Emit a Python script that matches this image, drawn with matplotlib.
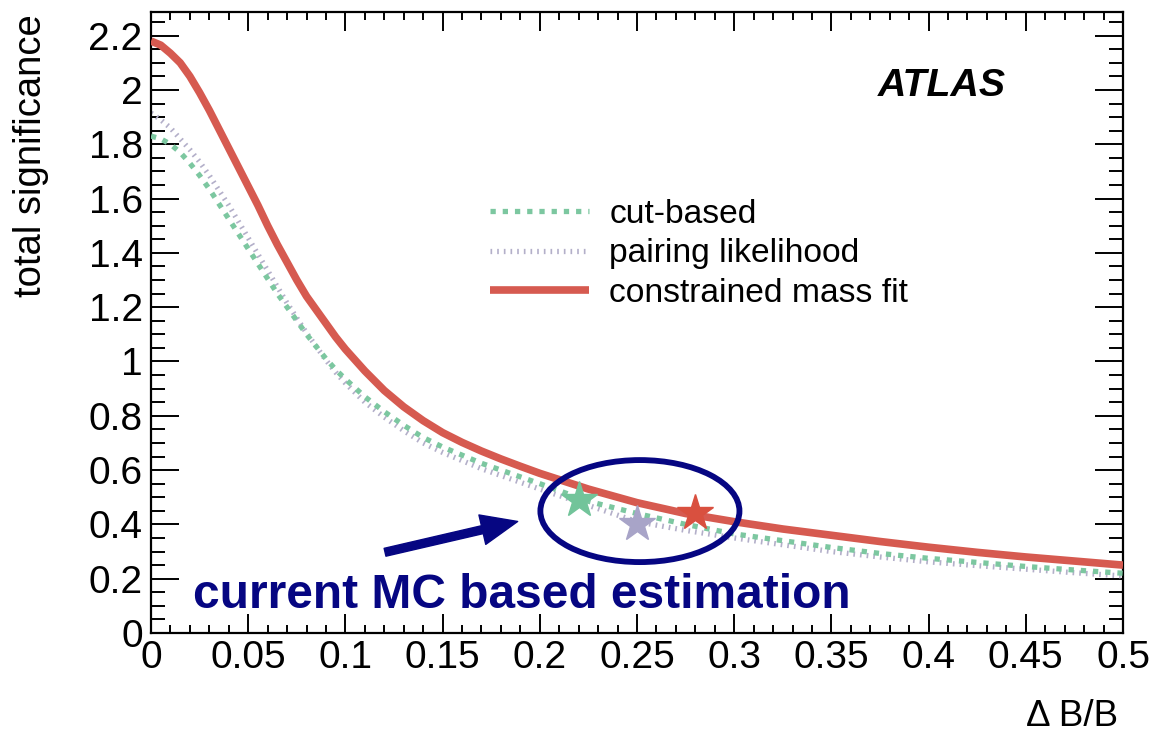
import matplotlib
matplotlib.use("Agg")
import matplotlib.pyplot as plt
from matplotlib.patches import Ellipse, FancyArrowPatch
from matplotlib.ticker import MultipleLocator, FixedLocator

plt.rcParams['font.family'] = ['Liberation Sans', 'DejaVu Sans']
plt.rcParams['lines.scale_dashes'] = False

# ---- data ----
dBB = [0.000, 0.005, 0.010, 0.015, 0.020, 0.025, 0.030, 0.035, 0.040, 0.045,
       0.050, 0.055, 0.060, 0.065, 0.070, 0.075, 0.080, 0.085, 0.090, 0.095,
       0.100, 0.110, 0.120, 0.130, 0.140, 0.150, 0.160, 0.170, 0.180, 0.190,
       0.200, 0.225, 0.250, 0.275, 0.300, 0.325, 0.350, 0.375, 0.400, 0.425,
       0.450, 0.475, 0.500]
cut_based = [1.83, 1.82, 1.80, 1.77, 1.73, 1.685, 1.635, 1.58, 1.525, 1.47,
             1.415, 1.36, 1.305, 1.25, 1.20, 1.15, 1.10, 1.055, 1.01, 0.97,
             0.935, 0.87, 0.815, 0.765, 0.72, 0.685, 0.655, 0.625, 0.60, 0.575,
             0.55, 0.485, 0.44, 0.40, 0.365, 0.34, 0.315, 0.293, 0.275, 0.26,
             0.245, 0.232, 0.22]
pairing_likelihood = [1.915, 1.89, 1.86, 1.82, 1.78, 1.735, 1.685, 1.63, 1.575, 1.515,
                      1.455, 1.395, 1.335, 1.275, 1.215, 1.16, 1.105, 1.055, 1.005, 0.96,
                      0.92, 0.85, 0.795, 0.745, 0.70, 0.665, 0.635, 0.605, 0.58, 0.555,
                      0.53, 0.47, 0.41, 0.378, 0.35, 0.325, 0.30, 0.28, 0.262, 0.248,
                      0.235, 0.222, 0.21]
constrained_fit = [2.18, 2.165, 2.135, 2.10, 2.05, 1.99, 1.925, 1.855, 1.785, 1.715,
                   1.645, 1.575, 1.50, 1.43, 1.365, 1.30, 1.24, 1.19, 1.14, 1.09,
                   1.045, 0.965, 0.893, 0.833, 0.782, 0.738, 0.702, 0.67, 0.641, 0.614,
                   0.588, 0.53, 0.48, 0.44, 0.41, 0.383, 0.36, 0.337, 0.316, 0.297,
                   0.28, 0.265, 0.25]
star_x = [0.22, 0.25, 0.28]
star_y = [0.49, 0.40, 0.442]

series_labels = ['cut-based', 'pairing likelihood', 'constrained mass fit']
x_ticks = [0, 0.05, 0.1, 0.15, 0.2, 0.25, 0.3, 0.35, 0.4, 0.45, 0.5]
x_tick_labels = ['0', '0.05', '0.1', '0.15', '0.2', '0.25', '0.3', '0.35', '0.4', '0.45', '0.5']
y_ticks = [0, 0.2, 0.4, 0.6, 0.8, 1.0, 1.2, 1.4, 1.6, 1.8, 2.0, 2.2]
y_tick_labels = ['0', '0.2', '0.4', '0.6', '0.8', '1', '1.2', '1.4', '1.6', '1.8', '2', '2.2']

green = '#7cc7a0'
purple = '#b3afc9'
red = '#d65a50'
navy = '#060682'

W, H = 1151, 734
fig = plt.figure(figsize=(W / 100, H / 100), dpi=100)
ax = fig.add_axes([151 / W, 1 - 633 / H, (1123 - 151) / W, (633 - 12) / H])

l1, = ax.plot(dBB, cut_based, color=green, lw=3.8, dashes=(3.8, 5.0),
              dash_capstyle='butt', zorder=3, label=series_labels[0])
l2, = ax.plot(dBB, pairing_likelihood, color=purple, lw=3.8, dashes=(1.2, 3.6),
              dash_capstyle='butt', zorder=2, label=series_labels[1])
l3, = ax.plot(dBB, constrained_fit, color=red, lw=5.5, solid_capstyle='butt',
              solid_joinstyle='round', zorder=4, label=series_labels[2])

star_colors = ['#72c49a', '#a8a4c8', '#d9503f']
for sx, sy, sc in zip(star_x, star_y, star_colors):
    ax.plot([sx], [sy], marker='*', ms=27, color=sc, mec=sc, zorder=6, ls='none')

ax.set_xlim(0, 0.5)
ax.set_ylim(0, 2.287)
ax.xaxis.set_major_locator(FixedLocator(x_ticks))
ax.set_xticklabels(x_tick_labels)
ax.yaxis.set_major_locator(FixedLocator(y_ticks))
ax.set_yticklabels(y_tick_labels)
ax.xaxis.set_minor_locator(MultipleLocator(0.01))
ax.yaxis.set_minor_locator(MultipleLocator(0.05))

ax.tick_params(axis='both', which='both', direction='in', top=True, right=True,
               width=1.4, color='black')
ax.tick_params(axis='x', which='major', length=13.5, labelsize=28, pad=5)
ax.tick_params(axis='x', which='minor', length=6)
ax.tick_params(axis='y', which='major', length=20, labelsize=28, pad=6)
ax.tick_params(axis='y', which='minor', length=10)
for s in ax.spines.values():
    s.set_linewidth(1.6)

fig.text(1118 / W, 1 - 726 / H, '\u0394 B/B', ha='right', va='baseline', fontsize=26.5)
fig.text(31 / W, 1 - 14 / H, 'total significance', rotation=90, ha='center', va='top',
         fontsize=27.5)

ax.text(878 / W, 1 - 96 / H, 'ATLAS', transform=fig.transFigure, fontsize=28.3,
        fontweight='bold', fontstyle='italic', ha='left', va='baseline')

leg = ax.legend(handles=[l1, l2, l3], loc='upper left',
                bbox_to_anchor=(490 / W, 1 - 199 / H), bbox_transform=fig.transFigure,
                frameon=False, fontsize=24.2, handlelength=2.95, handletextpad=0.6,
                labelspacing=0.25, borderpad=0, borderaxespad=0)

# annotation overlay
ell = Ellipse((0.2515, 0.449), 0.1024, 0.3757, fill=False, ec=navy, lw=4.2, zorder=7)
ax.add_patch(ell)
arr = FancyArrowPatch((0.119, 0.295), (0.190, 0.413),
                      arrowstyle='simple,head_length=0.9,head_width=0.75,tail_width=0.2',
                      mutation_scale=29, color=navy, zorder=7)
ax.add_patch(arr)
ax.text(0.0215, 0.092, 'current MC based estimation', color=navy, fontsize=34.5,
        fontweight='bold', ha='left', va='baseline', zorder=7)

fig.savefig('out.png', dpi=100)
